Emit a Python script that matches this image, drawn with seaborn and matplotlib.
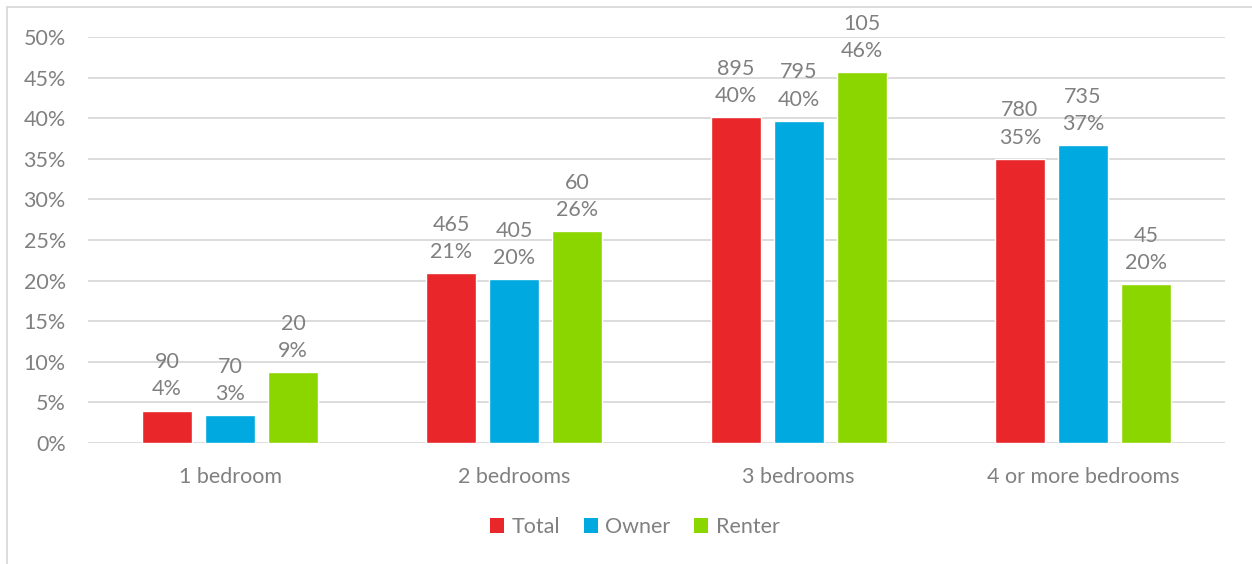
import matplotlib
matplotlib.use("Agg")
import matplotlib.pyplot as plt
import seaborn as sns
import pandas as pd
from matplotlib.patches import Rectangle, Patch

# data
categories = ['1 bedroom', '2 bedrooms', '3 bedrooms', '4 or more bedrooms']
total_pct = [4.0, 20.9, 40.1, 35.0]
owner_pct = [3.45, 20.2, 39.7, 36.7]
renter_pct = [8.7, 26.1, 45.7, 19.6]
total_n = [90, 465, 895, 780]
owner_n = [70, 405, 795, 735]
renter_n = [20, 60, 105, 45]
series = ['Total', 'Owner', 'Renter']
colors = ['#E9262A', '#00A9E0', '#8CD600']

rows = []
for s, pct, n in zip(series, [total_pct, owner_pct, renter_pct], [total_n, owner_n, renter_n]):
    for c, p, k in zip(categories, pct, n):
        rows.append({'cat': c, 'series': s, 'pct': p / 100, 'n': k})
df = pd.DataFrame(rows)

sns.set_theme(style='white')
plt.rcParams['font.family'] = ['Lato', 'DejaVu Sans']
grey = '#808080'
fs = 15.5

fig = plt.figure(figsize=(12.52, 5.64), dpi=100)
ax = fig.add_axes([88 / 1252, 1 - 443 / 564, (1225 - 88) / 1252, (443 - 37) / 564])

sns.barplot(data=df, x='cat', y='pct', hue='series', palette=colors,
            width=0.665, gap=0.21, saturation=1, legend=False, ax=ax)

ax.set_ylim(0, 0.5)
ax.set_xlim(-0.5, 3.5)
ax.set_yticks([i / 100 for i in range(0, 51, 5)])
ax.set_yticklabels([f'{i}%' for i in range(0, 51, 5)])
ax.grid(axis='y', color='#D9D9D9', linewidth=1.3)
ax.set_axisbelow(True)
for sp in ax.spines.values():
    sp.set_visible(False)
ax.set_xlabel('')
ax.set_ylabel('')
ax.tick_params(axis='y', length=0, pad=16, labelsize=fs, labelcolor=grey)
ax.tick_params(axis='x', length=0, pad=17, labelsize=fs, labelcolor=grey)

# data labels: count over percent
for cont, s in zip(ax.containers, series):
    sub = df[df['series'] == s]
    for bar, (_, r) in zip(cont, sub.iterrows()):
        ax.annotate(f"{r['n']}\n{r['pct'] * 100:.0f}%",
                    (bar.get_x() + bar.get_width() / 2, bar.get_height()),
                    xytext=(0, 8), textcoords='offset points',
                    ha='center', va='bottom', fontsize=fs, color=grey,
                    linespacing=1.45)

handles = [Patch(facecolor=c, edgecolor='none') for c in colors]
fig.legend(handles, series, loc='center', bbox_to_anchor=(0.507, 1 - 527 / 564),
           ncol=3, frameon=False, fontsize=fs, labelcolor=grey,
           handlelength=0.65, handleheight=0.65, handletextpad=0.35, columnspacing=1.1)

# outer chart frame (left and top edges visible)
fig.patches.append(Rectangle((7 / 1252, -0.05), 1.1, 1 - 7 / 564 + 0.05,
                             transform=fig.transFigure, fill=False,
                             edgecolor='#D9D9D9', linewidth=1.3))

fig.savefig('out.png', dpi=100)
